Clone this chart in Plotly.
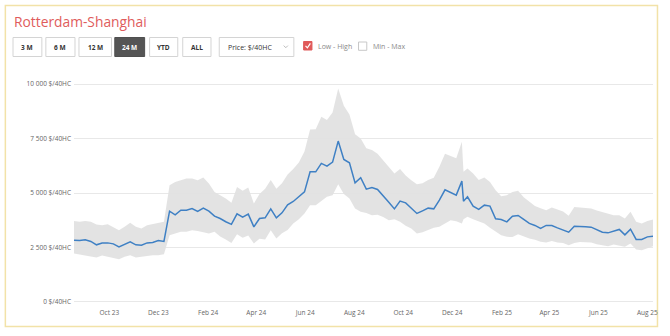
import pandas as pd
import plotly.graph_objects as go

# ---- data -------------------------------------------------------------
title_text = "Rotterdam-Shanghai"

# weekly index dates plus one intermediate correction point in December 2024
week_dates = list(pd.date_range("2023-08-18", periods=104, freq="7D"))
extra_date = pd.Timestamp("2024-12-15")
dates = week_dates[:70] + [extra_date] + week_dates[70:]

price_mid = [2835, 2820, 2850, 2775, 2620, 2700, 2710, 2665, 2525, 2635, 2755, 2620,
             2605, 2710, 2730, 2820, 2775,
             4165, 4000, 4210, 4210, 4290, 4150, 4305, 4165,
             3940, 3830, 3680, 3560, 4045, 3891, 4029, 3445, 3831, 3859,
             4272, 3859, 4089, 4456, 4612, 4824, 5053, 5972, 5972, 6358,
             6234, 6418, 7383, 6542, 6386, 5467, 5700, 5177, 5256, 5164,
             4888, 4580, 4272, 4626, 4548, 4291, 4061, 4181, 4305, 4272,
             4672, 5145, 5026, 4902, 5545, 4626,
             4824, 4397, 4245, 4442, 4397, 3813, 3785, 3675, 3937, 3969,
             3785, 3602, 3510, 3372, 3510, 3510, 3400, 3294, 3202, 3478,
             3445, 3445, 3432, 3326, 3202, 3170, 3248, 3326, 3078, 3340,
             2867, 2867, 2986, 3018]

price_high = [3720, 3675, 3720, 3675, 3555, 3525, 3570, 3445, 3295, 3445, 3630, 3445,
              3370, 3525, 3570, 3630, 3675,
              5360, 5510, 5590, 5670, 5670, 5590, 5710, 5440,
              5050, 4900, 4750, 4550, 5280, 5100, 5255, 4520, 4950, 5200,
              5600, 5200, 5450, 5850, 6100, 6400, 6900, 7920, 7930, 8500,
              8350, 8700, 9800, 9000, 8600, 7700, 7500, 7050, 6970, 6800,
              6500, 6200, 5900, 6100, 5800, 5590, 5400, 5450, 5600, 5700,
              6200, 6800, 6700, 6600, 7350, 5970,
              6130, 5900, 5600, 5714, 5500, 5130, 4850, 4900, 5050, 5100,
              4800, 4600, 4400, 4300, 4213, 4340, 4250, 4150, 3950, 4360,
              4330, 4300, 4290, 4200, 4135, 4040, 3983, 3983, 3830, 4135,
              3675, 3600, 3720, 3785]

price_low = [2220, 2180, 2130, 2070, 2040, 2130, 2070, 2040, 1960, 2070, 2145, 2040,
             2070, 2130, 2145, 2145, 2190,
             3060, 3140, 3216, 3216, 3294, 3250, 3200, 3140,
             3216, 3000, 2867, 2710, 3110, 2950, 3050, 2683, 2900, 2870,
             3294, 2912, 3150, 3300, 3600, 3800, 4061, 4442, 4442, 4650,
             4824, 4900, 5407, 4950, 4750, 4291, 4135, 4080, 3983, 4000,
             3900, 3750, 3800, 3675, 3500, 3372, 3142, 3200, 3294, 3400,
             3450, 3600, 3753, 3700, 3602, 3800,
             3905, 3800, 3700, 3602, 3400, 3216, 3064, 2986, 2980, 3110,
             3000, 2912, 2850, 2757, 2730, 2802, 2730, 2700, 2605, 2710,
             2750, 2750, 2730, 2650, 2605, 2560, 2640, 2600, 2527, 2683,
             2407, 2375, 2450, 2559]

y_ticks = [0, 2500, 5000, 7500, 10000]
y_tick_labels = ["0 $/40HC", "2 500 $/40HC", "5 000 $/40HC", "7 500 $/40HC", "10 000 $/40HC"]

range_buttons = ["3 M", "6 M", "12 M", "24 M", "YTD", "ALL"]
active_button = "24 M"
unit_selector = "Price: $/40HC"
band_options = ["Low - High", "Min - Max"]

# ---- page geometry (pixels) ------------------------------------------
W, H = 670, 336
Y_MIN, Y_MAX = -50, 10050          # a little headroom so edge gridlines show
PL, PR = 74, 656
PT, PB = 83, 303                   # plot-area top / bottom in pixels
FONT = "Open Sans"


def px(x, y):
    """Convert page pixels to paper coordinates of the plot area."""
    return (x - PL) / (PR - PL), (PB - y) / (PB - PT)


def rect(x0, y0, x1, y1, **kw):
    a, b = px(x0, y1)
    c, d = px(x1, y0)
    return dict(type="rect", xref="paper", yref="paper", x0=a, y0=b, x1=c, y1=d, **kw)


def label(x, y, text, size, color, xanchor="center", bold=False):
    a, b = px(x, y)
    if bold:
        text = "<b>" + text + "</b>"
    return dict(x=a, y=b, xref="paper", yref="paper", text=text, showarrow=False,
                xanchor=xanchor, yanchor="middle",
                font=dict(family=FONT, size=size, color=color))


def polyline(points, color, width):
    parts = []
    for i, (x, y) in enumerate(points):
        a, b = px(x, y)
        parts.append(("M" if i == 0 else "L") + f"{a:.5f},{b:.5f}")
    return dict(type="path", xref="paper", yref="paper", path=" ".join(parts),
                line=dict(color=color, width=width))


fig = go.Figure()

# low-high band
fig.add_trace(go.Scatter(x=dates, y=price_low, mode="lines",
                         line=dict(width=0, color="rgba(0,0,0,0)"),
                         hoverinfo="skip", showlegend=False))
fig.add_trace(go.Scatter(x=dates, y=price_high, mode="lines", fill="tonexty",
                         fillcolor="rgba(225,225,225,0.95)",
                         line=dict(width=0, color="rgba(0,0,0,0)"),
                         hoverinfo="skip", showlegend=False))
# index price
fig.add_trace(go.Scatter(x=dates, y=price_mid, mode="lines",
                         line=dict(color="#3f80c4", width=1.5),
                         showlegend=False))

shapes = []
annotations = []

# card border
shapes.append(rect(5, 5.5, 660.5, 326.5, line=dict(color="#f2e2a8", width=1.5),
                   fillcolor="rgba(0,0,0,0)", layer="below"))

# title
annotations.append(label(12, 21, title_text, 13.8, "#e05c5c", xanchor="left"))

# range buttons
btn_x = [(12.7, 41.7), (45.7, 75), (79, 111.7), (115, 145), (150, 178.3), (183.3, 211.7)]
for name, (x0, x1) in zip(range_buttons, btn_x):
    on = name == active_button
    shapes.append(rect(x0, 37.5, x1, 56.5,
                       line=dict(color="#4f4f4f" if on else "#d4d4d4", width=1),
                       fillcolor="#555555" if on else "#ffffff"))
    annotations.append(label((x0 + x1) / 2, 47, name, 6.5,
                             "#ffffff" if on else "#333333", bold=True))

# unit dropdown
shapes.append(rect(220, 37.5, 295, 56.5, line=dict(color="#d4d4d4", width=1),
                   fillcolor="#ffffff"))
annotations.append(label(226.5, 47, unit_selector, 7, "#333333", xanchor="left"))
shapes.append(polyline([(284.8, 45.6), (286.9, 47.7), (289, 45.6)], "#aaaaaa", 0.8))

# band checkboxes
shapes.append(rect(304.8, 41.5, 313.2, 50, line=dict(color="#e05a5a", width=1),
                   fillcolor="#e05a5a"))
shapes.append(polyline([(306.7, 45.8), (308.6, 47.8), (311.6, 43.4)], "#ffffff", 1.2))
annotations.append(label(317.5, 46.5, band_options[0], 7, "#8a8a8a", xanchor="left"))
shapes.append(rect(360, 42, 368.3, 50.3, line=dict(color="#c8c8c8", width=1),
                   fillcolor="#ffffff"))
annotations.append(label(372.5, 46.8, band_options[1], 7, "#8a8a8a", xanchor="left"))

fig.update_layout(
    width=W, height=H, autosize=False,
    margin=dict(l=PL, r=W - PR, t=PT, b=H - PB, pad=0),
    paper_bgcolor="#ffffff", plot_bgcolor="#ffffff",
    font=dict(family=FONT, color="#666666"),
    hovermode=False,
    shapes=shapes,
    annotations=annotations,
    xaxis=dict(type="date", range=[dates[0], dates[-1]],
               tick0="2023-10-01", dtick="M2", tickformat="%b %y",
               showgrid=False, zeroline=False, showline=False, ticks="",
               ticklabelstandoff=4,
               tickfont=dict(family=FONT, size=6.5, color="#666666")),
    yaxis=dict(range=[Y_MIN, Y_MAX], tickvals=y_ticks, ticktext=y_tick_labels,
               showgrid=True, gridcolor="#e8e8e8", gridwidth=1,
               zeroline=False, showline=False, ticks="",
               ticklabelstandoff=2,
               tickfont=dict(family=FONT, size=6.5, color="#666666")),
)

fig.write_html("out.html")
